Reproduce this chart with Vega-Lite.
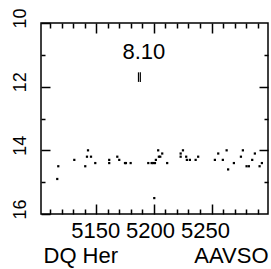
{
  "$schema": "https://vega.github.io/schema/vega-lite/v6.json",
  "width": 227,
  "height": 191,
  "autosize": "none",
  "padding": {"left": 41, "top": 23, "right": 3, "bottom": 55},
  "background": "white",
  "config": {
    "view": {"stroke": "black", "strokeWidth": 1.5},
    "font": "Liberation Sans"
  },
  "resolve": {
    "scale": {"x": "independent", "y": "independent"},
    "axis": {"x": "independent", "y": "independent"}
  },
  "layer": [
    {
      "data": {"values": [
        {"day": 5116.1, "mag": 14.9}, {"day": 5117.0, "mag": 14.5}, {"day": 5130.9, "mag": 14.3},
        {"day": 5140.4, "mag": 14.5}, {"day": 5142.8, "mag": 14.0}, {"day": 5141.9, "mag": 14.2},
        {"day": 5145.4, "mag": 14.2}, {"day": 5149.1, "mag": 14.4}, {"day": 5161.2, "mag": 14.3},
        {"day": 5161.2, "mag": 14.4}, {"day": 5168.2, "mag": 14.2}, {"day": 5169.9, "mag": 14.3},
        {"day": 5174.9, "mag": 14.4}, {"day": 5175.7, "mag": 14.4}, {"day": 5179.8, "mag": 14.4},
        {"day": 5195.1, "mag": 14.4}, {"day": 5198.0, "mag": 14.4}, {"day": 5199.4, "mag": 14.4},
        {"day": 5200.9, "mag": 14.4}, {"day": 5201.7, "mag": 14.3}, {"day": 5200.3, "mag": 15.5},
        {"day": 5203.7, "mag": 14.0}, {"day": 5204.3, "mag": 14.2}, {"day": 5205.5, "mag": 14.2},
        {"day": 5207.2, "mag": 14.1}, {"day": 5211.5, "mag": 14.4}, {"day": 5223.2, "mag": 14.1},
        {"day": 5223.2, "mag": 14.2}, {"day": 5225.2, "mag": 14.0}, {"day": 5228.0, "mag": 14.2},
        {"day": 5228.6, "mag": 14.3}, {"day": 5231.2, "mag": 14.3}, {"day": 5236.2, "mag": 14.3},
        {"day": 5238.4, "mag": 14.2}, {"day": 5252.9, "mag": 14.3}, {"day": 5255.8, "mag": 14.1},
        {"day": 5259.8, "mag": 14.3}, {"day": 5263.1, "mag": 14.0}, {"day": 5264.4, "mag": 14.6},
        {"day": 5269.4, "mag": 14.4}, {"day": 5275.5, "mag": 14.2}, {"day": 5277.2, "mag": 14.0},
        {"day": 5280.4, "mag": 14.5}, {"day": 5282.4, "mag": 14.5}, {"day": 5285.3, "mag": 14.3},
        {"day": 5287.6, "mag": 14.1}, {"day": 5291.7, "mag": 14.5}, {"day": 5293.7, "mag": 14.4}
      ]},
      "mark": {"type": "point", "shape": "square", "filled": true, "size": 5, "color": "black", "opacity": 1},
      "encoding": {
        "x": {
          "field": "day", "type": "quantitative",
          "scale": {"domain": [5102, 5299], "nice": false, "zero": false},
          "axis": {
            "orient": "bottom", "zindex": 1,
            "offset": -10,
            "values": [5150, 5200, 5250],
            "format": "d",
            "domain": false, "grid": false,
            "ticks": true, "tickSize": 10, "tickColor": "#000000", "tickOpacity": 1, "tickWidth": 1.5,
            "labelFont": "Liberation Sans", "labelFontSize": 22, "labelColor": "black",
            "labelFlush": false, "labelOverlap": false,
            "labelBaseline": "top", "labelPadding": 6,
            "labelOffset": {"condition": [
              {"test": "datum.value === 5150", "value": -1},
              {"test": "datum.value === 5200", "value": -4}
            ], "value": -6.5},
            "title": "DQ Her",
            "titleFont": "Liberation Sans", "titleFontSize": 22, "titleFontWeight": "normal", "titleColor": "black",
            "titleAnchor": "start", "titleAlign": "left", "titleBaseline": "alphabetic",
            "titleX": 2, "titleY": 58.5
          }
        },
        "y": {
          "field": "mag", "type": "quantitative",
          "scale": {"domain": [10, 16], "reverse": true, "nice": false, "zero": false},
          "axis": {
            "orient": "left", "zindex": 1,
            "offset": -9,
            "values": [10, 12, 14, 16],
            "format": "d",
            "domain": false, "grid": false,
            "ticks": true, "tickSize": 9, "tickColor": "#000000", "tickOpacity": 1, "tickWidth": 1.5,
            "labelAngle": 270, "labelAlign": "center", "labelBaseline": "alphabetic",
            "labelPadding": 16, "labelOffset": -5,
            "labelFont": "Liberation Sans", "labelFontSize": 18, "labelColor": "black",
            "labelFlush": false, "labelOverlap": false,
            "title": null
          }
        }
      }
    },
    {
      "data": {"values": [{"day": 5191.3, "mag": 11.14, "label": "8.10"}]},
      "mark": {"type": "text", "font": "Liberation Sans", "fontSize": 22, "align": "center", "baseline": "alphabetic", "color": "black"},
      "encoding": {
        "x": {
          "field": "day", "type": "quantitative",
          "scale": {"domain": [5102, 5299], "nice": false, "zero": false},
          "axis": {
            "orient": "bottom", "zindex": 1,
            "values": [5110, 5120, 5130, 5140, 5160, 5170, 5180, 5190, 5210, 5220, 5230, 5240, 5260, 5270, 5280, 5290],
            "domain": false, "labels": false, "ticks": false,
            "grid": true, "gridDash": [5, 181, 5], "gridColor": "#000000", "gridOpacity": 1, "gridWidth": 1.5,
            "title": "AAVSO",
            "titleFont": "Liberation Sans", "titleFontSize": 22, "titleFontWeight": "normal", "titleColor": "black",
            "titleAnchor": "end", "titleAlign": "right", "titleBaseline": "alphabetic",
            "titleX": 227, "titleY": 48.5
          }
        },
        "y": {
          "field": "mag", "type": "quantitative",
          "scale": {"domain": [10, 16], "reverse": true, "nice": false, "zero": false},
          "axis": {
            "orient": "left", "zindex": 1,
            "values": [11, 13, 15],
            "domain": false, "labels": false, "ticks": false,
            "grid": true, "gridDash": [4, 219, 4], "gridColor": "#000000", "gridOpacity": 1, "gridWidth": 1.5,
            "title": null
          }
        },
        "text": {"field": "label"}
      }
    },
    {
      "data": {"values": [
        {"day": 5186.6, "lo": 11.55, "hi": 11.85},
        {"day": 5188.2, "lo": 11.55, "hi": 11.85}
      ]},
      "mark": {"type": "rule", "color": "black", "strokeWidth": 1.2},
      "encoding": {
        "x": {
          "field": "day", "type": "quantitative",
          "scale": {"domain": [5102, 5299], "nice": false, "zero": false},
          "axis": {
            "orient": "top", "zindex": 1,
            "offset": -10,
            "values": [5150, 5200, 5250],
            "domain": false, "grid": false, "labels": false,
            "ticks": true, "tickSize": 10, "tickColor": "#000000", "tickOpacity": 1, "tickWidth": 1.5,
            "title": null
          }
        },
        "y": {
          "field": "lo", "type": "quantitative",
          "scale": {"domain": [10, 16], "reverse": true, "nice": false, "zero": false},
          "axis": {
            "orient": "right", "zindex": 1,
            "offset": -9,
            "values": [12, 14],
            "domain": false, "grid": false, "labels": false,
            "ticks": true, "tickSize": 9, "tickColor": "#000000", "tickOpacity": 1, "tickWidth": 1.5,
            "title": null
          }
        },
        "y2": {"field": "hi"}
      }
    }
  ]
}
